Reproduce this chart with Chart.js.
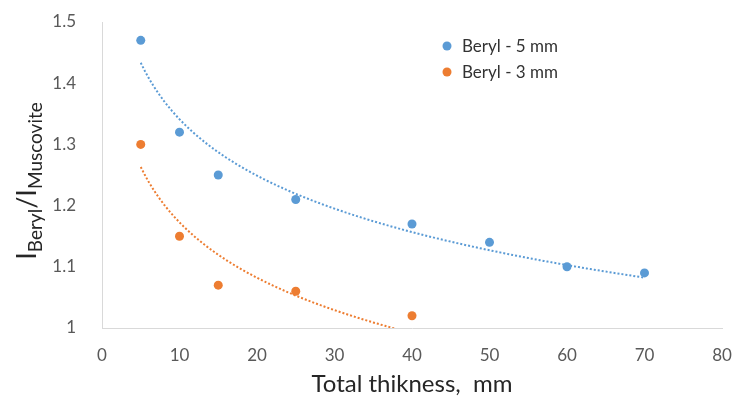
<!DOCTYPE html>
<html>
<head>
<meta charset="utf-8">
<script src="https://cdn.jsdelivr.net/npm/chart.js@4.4.0/dist/chart.umd.min.js"></script>
<style>
  html, body { margin: 0; padding: 0; background: #fff; }
</style>
</head>
<body>
<canvas id="chart" width="733" height="399"></canvas>
<script>
// values
const thickness5 = [5, 10, 15, 25, 40, 50, 60, 70];
const ratio5 = [1.47, 1.32, 1.25, 1.21, 1.17, 1.14, 1.10, 1.09];
const thickness3 = [5, 10, 15, 25, 40];
const ratio3 = [1.30, 1.15, 1.07, 1.06, 1.02];
const seriesNames = ["Beryl - 5 mm", "Beryl - 3 mm"];
const seriesColors = ["#5B9BD5", "#ED7D31"];

const FONT = "Lato, 'Open Sans', sans-serif";

function toPoints(xs, ys) {
  return xs.map((x, i) => ({ x: x, y: ys[i] }));
}

// logarithmic trendline (least squares on ln x), like the spreadsheet one
function logTrend(xs, ys) {
  const lx = xs.map((x) => Math.log(x));
  const n = xs.length;
  const mx = lx.reduce((a, b) => a + b, 0) / n;
  const my = ys.reduce((a, b) => a + b, 0) / n;
  let sxy = 0;
  let sxx = 0;
  lx.forEach((v, i) => {
    sxy += (v - mx) * (ys[i] - my);
    sxx += (v - mx) * (v - mx);
  });
  const b = sxy / sxx;
  const a = my - b * mx;
  const pts = [];
  const x0 = xs[0];
  const x1 = xs[n - 1];
  for (let x = x0; x <= x1 + 1e-9; x += 0.5) {
    pts.push({ x: x, y: a + b * Math.log(x) });
  }
  return pts;
}

const legendPlugin = {
  id: "insideLegend",
  afterDraw(chart) {
    const ctx = chart.ctx;
    ctx.save();
    ctx.font = "17px " + FONT;
    ctx.textBaseline = "middle";
    seriesNames.forEach((name, i) => {
      const y = 46 + i * 26;
      ctx.beginPath();
      ctx.arc(447, y, 4.5, 0, Math.PI * 2);
      ctx.fillStyle = seriesColors[i];
      ctx.fill();
      ctx.fillStyle = "#333333";
      ctx.fillText(name, 462, y + 1);
    });
    ctx.restore();
  },
};

// y title with subscripts: I_Beryl / I_Muscovite
const yTitlePlugin = {
  id: "yTitle",
  afterDraw(chart) {
    const ctx = chart.ctx;
    const parts = [
      { t: "I", size: 27, sub: false },
      { t: "Beryl", size: 19, sub: true },
      { t: "/", size: 27, sub: false },
      { t: "I", size: 27, sub: false },
      { t: "Muscovite", size: 19, sub: true },
    ];
    ctx.save();
    ctx.translate(36, 181);
    ctx.rotate(-Math.PI / 2);
    ctx.fillStyle = "#262626";
    ctx.textBaseline = "alphabetic";
    let total = 0;
    parts.forEach((p) => {
      ctx.font = p.size + "px " + FONT;
      p.w = ctx.measureText(p.t).width;
      total += p.w;
    });
    let x = -total / 2;
    parts.forEach((p) => {
      ctx.font = p.size + "px " + FONT;
      ctx.fillText(p.t, x, p.sub ? 6 : 0);
      x += p.w;
    });
    ctx.restore();
  },
};

const ctx = document.getElementById("chart");
new Chart(ctx, {
  type: "scatter",
  data: {
    datasets: [
      {
        label: seriesNames[0],
        data: toPoints(thickness5, ratio5),
        backgroundColor: seriesColors[0],
        borderWidth: 0,
        pointRadius: 4.5,
      },
      {
        label: seriesNames[1],
        data: toPoints(thickness3, ratio3),
        backgroundColor: seriesColors[1],
        borderWidth: 0,
        pointRadius: 4.5,
      },
      {
        type: "line",
        label: "trend 5",
        data: logTrend(thickness5, ratio5),
        borderColor: seriesColors[0],
        borderWidth: 2,
        borderDash: [2, 2],
        pointRadius: 0,
        fill: false,
      },
      {
        type: "line",
        label: "trend 3",
        data: logTrend(thickness3, ratio3),
        borderColor: seriesColors[1],
        borderWidth: 2,
        borderDash: [2, 2],
        pointRadius: 0,
        fill: false,
      },
    ],
  },
  options: {
    responsive: false,
    animation: false,
    devicePixelRatio: 1,
    layout: { padding: { top: 22, right: 11, left: 0, bottom: 0 } },
    plugins: {
      legend: { display: false },
      tooltip: { enabled: false },
    },
    scales: {
      x: {
        type: "linear",
        min: 0,
        max: 80,
        ticks: {
          stepSize: 10,
          padding: 9,
          color: "#595959",
          font: { family: FONT, size: 17 },
        },
        grid: { display: false },
        border: { display: true, color: "#D9D9D9", width: 1 },
        title: {
          display: true,
          text: "Total thikness,  mm",
          color: "#262626",
          font: { family: FONT, size: 24 },
          padding: { top: 0, bottom: 0 },
        },
        afterFit(scale) {
          scale.height = 71;
          scale.paddingRight = 0;
          scale.paddingLeft = 0;
        },
      },
      y: {
        type: "linear",
        min: 1,
        max: 1.5,
        ticks: {
          stepSize: 0.1,
          padding: 18,
          color: "#595959",
          font: { family: FONT, size: 17 },
          callback: (v) => String(Math.round(v * 10) / 10),
        },
        grid: { display: false },
        border: { display: true, color: "#D9D9D9", width: 1 },
        afterFit(scale) {
          scale.width = 102;
          scale.paddingTop = 0;
          scale.paddingBottom = 0;
        },
      },
    },
  },
  plugins: [legendPlugin, yTitlePlugin],
});
</script>
</body>
</html>
